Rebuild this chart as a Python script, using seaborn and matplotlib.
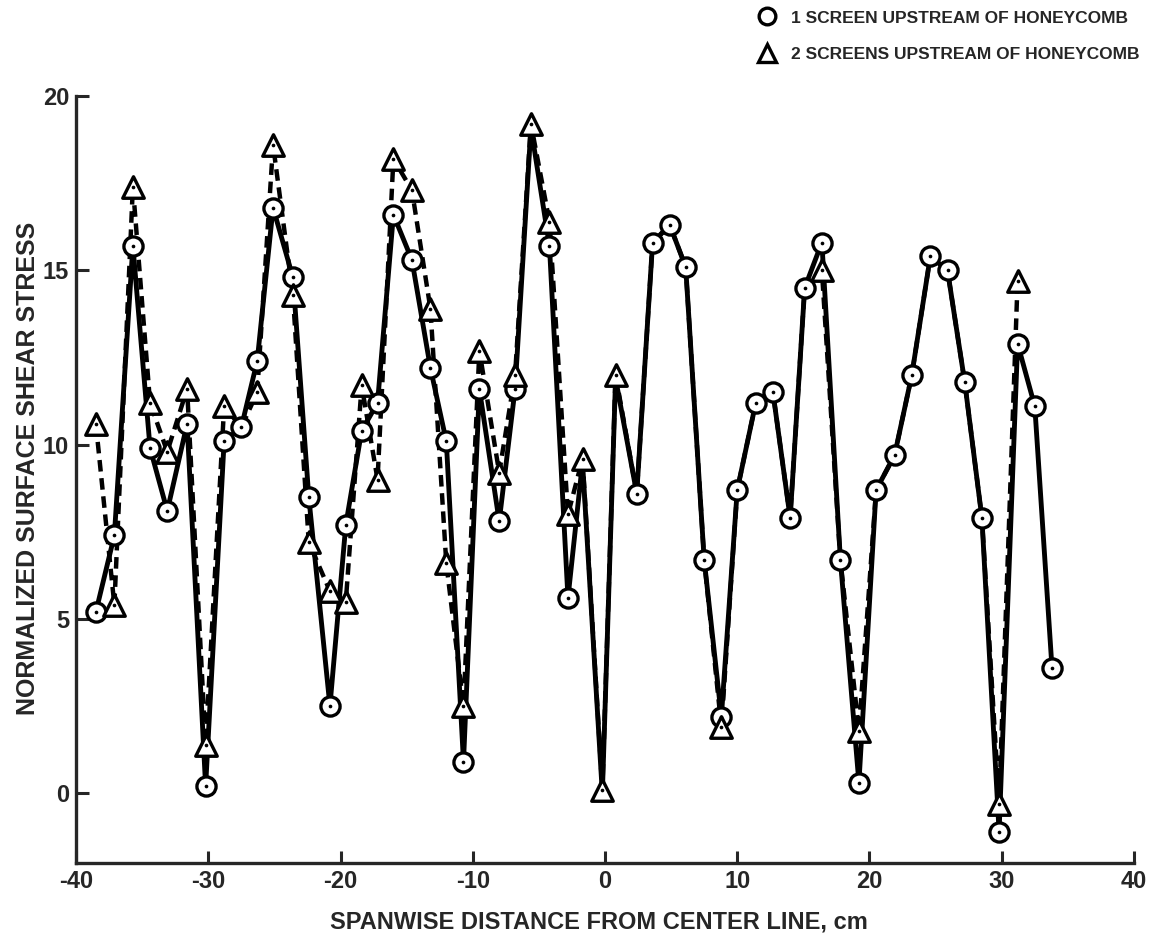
import numpy as np
import pandas as pd
import matplotlib
matplotlib.use("Agg")
import matplotlib.pyplot as plt
from matplotlib.lines import Line2D
import seaborn as sns


# spanwise stations, cm
x_cm = [-38.5, -37.1, -35.7, -34.4, -33.1, -31.6, -30.2, -28.8, -27.5, -26.3,
        -25.1, -23.6, -22.4, -20.8, -19.6, -18.4, -17.2, -16.0, -14.6, -13.2,
        -12.0, -10.7, -9.5, -8.0, -6.8, -5.6, -4.2, -2.8, -1.7, -0.2,
        0.8, 2.4, 3.6, 4.9, 6.1, 7.5, 8.8, 10.0, 11.4, 12.7,
        14.0, 15.1, 16.4, 17.8, 19.2, 20.5, 21.9, 23.2, 24.6, 25.9,
        27.2, 28.5, 29.8, 31.2, 32.5, 33.8]

# 1 screen upstream of honeycomb
one_screen = [5.2, 7.4, 15.7, 9.9, 8.1, 10.6, 0.2, 10.1, 10.5, 12.4,
              16.8, 14.8, 8.5, 2.5, 7.7, 10.4, 11.2, 16.6, 15.3, 12.2,
              10.1, 0.9, 11.6, 7.8, 11.6, 19.1, 15.7, 5.6, 9.5, 0.0,
              11.9, 8.6, 15.8, 16.3, 15.1, 6.7, 2.2, 8.7, 11.2, 11.5,
              7.9, 14.5, 15.8, 6.7, 0.3, 8.7, 9.7, 12.0, 15.4, 15.0,
              11.8, 7.9, -1.1, 12.9, 11.1, 3.6]

# 2 screens upstream of honeycomb (same as 1 screen where the curves overlap)
two_screens = [10.6, 5.4, 17.4, 11.2, 9.8, 11.6, 1.4, 11.1, 10.5, 11.5,
               18.6, 14.3, 7.2, 5.8, 5.5, 11.7, 9.0, 18.2, 17.3, 13.9,
               6.6, 2.5, 12.7, 9.2, 12.0, 19.2, 16.4, 8.0, 9.6, 0.1,
               12.0, 8.6, 15.8, 16.3, 15.1, 6.7, 1.9, 8.7, 11.2, 11.5,
               7.9, 14.5, 15.0, 6.7, 1.8, 8.7, 9.7, 12.0, 15.4, 15.0,
               11.8, 7.9, -0.3, 14.7, np.nan, np.nan]

labels = ["1 SCREEN UPSTREAM OF HONEYCOMB", "2 SCREENS UPSTREAM OF HONEYCOMB"]


df = pd.DataFrame({"x": x_cm, "one": one_screen, "two": two_screens})

gap = (df["two"] - df["one"]).abs()
# triangles only where the 2-screen reading differs,
# circles hidden where a triangle sits right on top of them
tri_df = df[df["two"].notna() & (gap > 0)]
circ_df = df[~((gap > 0) & (gap <= 0.15))]

sns.set_style("ticks")
plt.rcParams["font.family"] = ["Liberation Sans", "DejaVu Sans"]
plt.rcParams["font.weight"] = "bold"
plt.rcParams["axes.unicode_minus"] = False

fig = plt.figure(figsize=(11.57, 9.33), dpi=100)
ax = fig.add_axes([0.0657, 0.075, 0.9144, 0.822])

# dashed 2-screen curve
sns.lineplot(data=df, x="x", y="two", ax=ax, color="black", lw=3.2,
             linestyle=(0, (2.6, 1.5)), estimator=None, legend=False)

# solid 1-screen curve
sns.lineplot(data=df, x="x", y="one", ax=ax, color="black", lw=3.5,
             estimator=None, legend=False)

sns.scatterplot(data=circ_df, x="x", y="one", ax=ax, marker="o", s=190,
                color="white", edgecolor="black", linewidth=2.4, zorder=3)
sns.scatterplot(data=tri_df, x="x", y="two", ax=ax, marker="^", s=240,
                color="white", edgecolor="black", linewidth=2.4, zorder=4)

# little centre dots
sns.scatterplot(data=circ_df, x="x", y="one", ax=ax, s=7, color="black",
                linewidth=0, zorder=5)
sns.scatterplot(data=tri_df, x="x", y="two", ax=ax, s=7, color="black",
                linewidth=0, zorder=5)

ax.set_xlim(-40, 40)
ax.set_ylim(-2, 20)
ax.set_xticks(range(-40, 41, 10))
ax.set_yticks([0, 5, 10, 15, 20])

sns.despine(ax=ax)
for side in ["left", "bottom"]:
    ax.spines[side].set_linewidth(2.4)

ax.tick_params(direction="in", length=9, width=2.2, labelsize=17, pad=5)

ax.set_xlabel("SPANWISE DISTANCE FROM CENTER LINE, cm", fontsize=17,
              fontweight="bold")
ax.set_ylabel("NORMALIZED SURFACE SHEAR STRESS", fontsize=18,
              fontweight="bold")
ax.xaxis.set_label_coords(0.494, -0.062)
ax.yaxis.set_label_coords(-0.034, 0.515)

handles = [
    Line2D([], [], ls="none", marker="o", ms=12, mfc="white", mec="black", mew=2.4),
    Line2D([], [], ls="none", marker="^", ms=13, mfc="white", mec="black", mew=2.4),
]
fig.legend(handles, labels, loc="upper left", bbox_to_anchor=(0.645, 1.0),
           frameon=False, handletextpad=0.8, handlelength=1.2,
           labelspacing=1.25, borderaxespad=0.2,
           prop={"family": "Liberation Sans", "weight": "bold", "size": 12.5})

fig.savefig("out.png", dpi=100)
